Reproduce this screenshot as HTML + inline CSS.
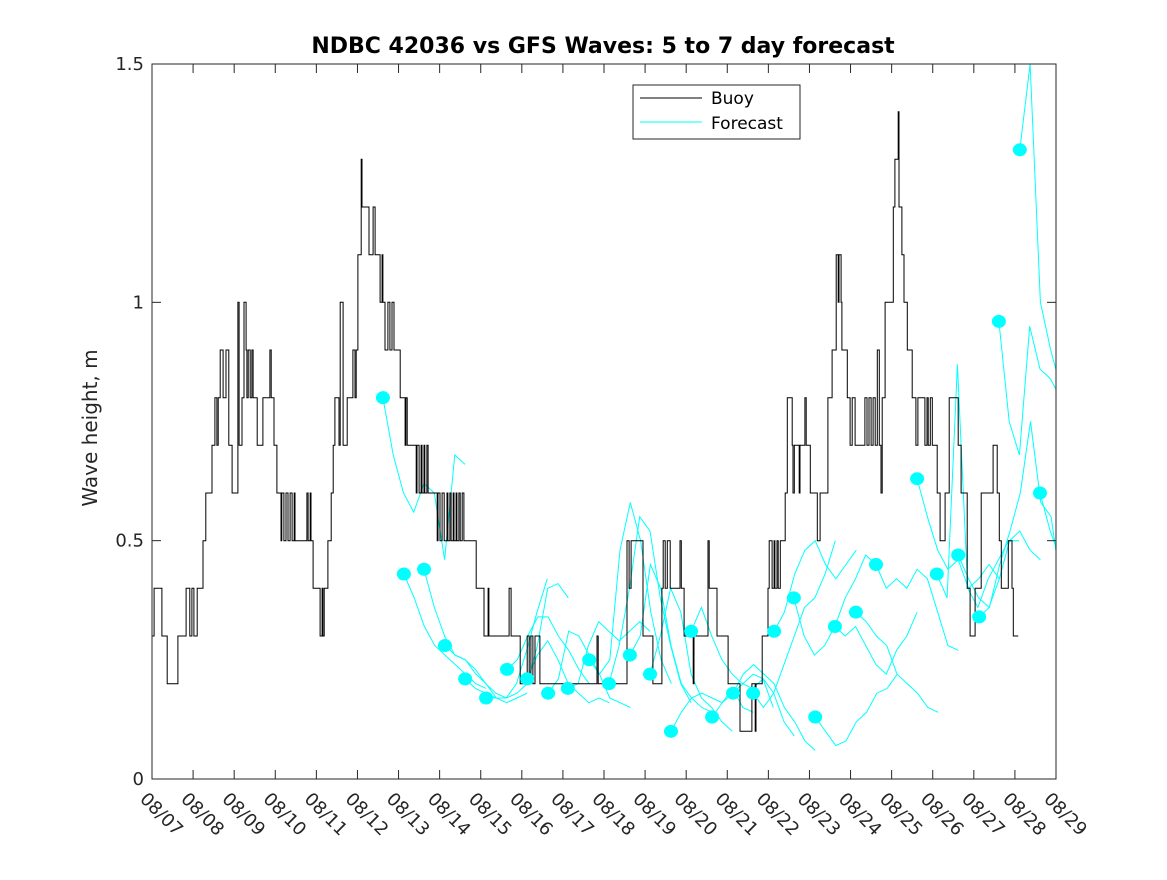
<!DOCTYPE html>
<html><head><meta charset="utf-8"><style>
body{margin:0;background:#fff}
svg text{font-family:"DejaVu Sans","Liberation Sans",sans-serif;fill:#262626}
</style></head><body>
<svg id="chart" width="1167" height="875" viewBox="0 0 1167 875" xmlns="http://www.w3.org/2000/svg">
<defs><clipPath id="plotclip"><rect x="152" y="64" width="904" height="715"/></clipPath></defs>
<rect x="0" y="0" width="1167" height="875" fill="#fff"/>
<text x="603" y="53" text-anchor="middle" font-size="22" font-weight="bold" style="fill:#000">NDBC 42036 vs GFS Waves: 5 to 7 day forecast</text>
<text transform="translate(97,428) rotate(-90)" text-anchor="middle" font-size="20">Wave height, m</text>
<g id="plot" clip-path="url(#plotclip)"></g>
<rect x="152" y="64" width="904" height="715" fill="none" stroke="#262626" stroke-width="1"/>
<g id="axes"></g>
<g>
<rect x="633" y="85" width="167" height="54" fill="#fff" stroke="#262626" stroke-width="1"/>
<line x1="640" y1="98" x2="702" y2="98" stroke="#000" stroke-width="1"/>
<text x="711" y="104" font-size="17" style="fill:#000">Buoy</text>
<line x1="640" y1="122" x2="702" y2="122" stroke="#00ffff" stroke-width="1"/>
<text x="711" y="129" font-size="17" style="fill:#000">Forecast</text>
</g>
</svg>
<script>
const xTickLabels=["08/07","08/08","08/09","08/10","08/11","08/12","08/13","08/14","08/15","08/16","08/17","08/18","08/19","08/20","08/21","08/22","08/23","08/24","08/25","08/26","08/27","08/28","08/29"];
const yTicks=[0,0.5,1,1.5];
const yTickLabels=["0","0.5","1","1.5"];
const buoyT=[0,0.05,0.24,0.37,0.63,0.83,0.92,0.97,1.02,1.10,1.24,1.31,1.46,1.53,1.58,1.61,1.66,1.73,1.80,1.87,1.95,2.09,2.12,2.19,2.24,2.29,2.31,2.34,2.39,2.43,2.46,2.56,2.70,2.87,2.90,2.97,3.04,3.14,3.16,3.21,3.26,3.31,3.36,3.41,3.46,3.48,3.77,3.80,3.85,3.87,3.92,4.09,4.14,4.16,4.19,4.28,4.36,4.41,4.45,4.55,4.58,4.65,4.75,4.89,4.94,4.97,5.01,5.09,5.11,5.28,5.38,5.43,5.55,5.60,5.62,5.67,5.74,5.79,5.84,5.89,6.04,6.16,6.18,6.21,6.43,6.45,6.50,6.55,6.57,6.62,6.64,6.69,6.72,6.94,6.96,7.01,7.06,7.11,7.18,7.20,7.25,7.28,7.33,7.35,7.40,7.42,7.47,7.50,7.55,7.59,7.89,8.08,8.18,8.20,8.69,8.74,8.96,9.13,9.18,9.22,9.27,9.32,9.44,10.83,10.86,11.56,11.61,11.66,11.95,12.19,12.41,12.44,12.49,12.54,12.61,12.85,12.88,12.95,13.17,13.19,13.53,13.56,13.75,14.02,14.31,14.60,14.68,14.70,14.85,14.99,15.02,15.09,15.14,15.16,15.21,15.24,15.29,15.41,15.46,15.58,15.60,15.63,15.75,15.77,15.89,15.92,16.02,16.19,16.26,16.45,16.55,16.65,16.70,16.72,16.77,16.79,16.92,16.99,17.04,17.11,17.35,17.40,17.45,17.50,17.55,17.60,17.65,17.70,17.74,17.77,17.84,18.04,18.08,18.16,18.18,18.25,18.30,18.38,18.50,18.59,18.64,18.81,18.86,18.89,18.94,18.99,19.11,19.18,19.30,19.40,19.62,19.69,19.84,19.91,20.03,20.18,20.47,20.57,20.62,20.67,20.84,20.93,20.96,21.03,21.08,21.30];
const buoyV=[0.3,0.4,0.3,0.2,0.3,0.4,0.3,0.4,0.3,0.4,0.5,0.6,0.7,0.8,0.7,0.8,0.9,0.8,0.9,0.7,0.6,1.0,0.7,0.8,1.0,0.9,0.8,0.9,0.8,0.9,0.8,0.7,0.8,0.9,0.8,0.7,0.6,0.5,0.6,0.5,0.6,0.5,0.6,0.5,0.6,0.5,0.6,0.5,0.6,0.5,0.4,0.3,0.4,0.3,0.4,0.5,0.6,0.7,0.8,0.7,1.0,0.7,0.8,0.9,0.8,0.9,1.1,1.3,1.2,1.1,1.2,1.1,1.0,1.1,1.0,0.9,1.0,0.9,1.0,0.9,0.8,0.7,0.8,0.7,0.6,0.7,0.6,0.7,0.6,0.7,0.6,0.7,0.6,0.5,0.6,0.5,0.6,0.5,0.6,0.5,0.6,0.5,0.6,0.5,0.6,0.5,0.6,0.5,0.6,0.5,0.4,0.3,0.4,0.3,0.4,0.3,0.2,0.3,0.2,0.3,0.2,0.3,0.2,0.3,0.2,0.5,0.4,0.5,0.3,0.2,0.4,0.5,0.4,0.5,0.4,0.5,0.4,0.3,0.2,0.3,0.5,0.4,0.3,0.2,0.1,0.2,0.1,0.2,0.3,0.4,0.5,0.4,0.5,0.4,0.5,0.4,0.5,0.6,0.8,0.7,0.6,0.7,0.6,0.7,0.8,0.7,0.6,0.5,0.6,0.8,0.9,1.1,1.0,1.1,1.0,0.9,0.8,0.7,0.8,0.7,0.8,0.7,0.8,0.7,0.8,0.7,0.9,0.7,0.6,0.8,1.0,1.2,1.3,1.4,1.2,1.1,1.0,0.9,0.8,0.7,0.8,0.7,0.8,0.7,0.8,0.7,0.6,0.5,0.6,0.8,0.7,0.6,0.4,0.3,0.4,0.6,0.7,0.6,0.5,0.4,0.5,0.4,0.3,0.3];
const fcStart=[5.62,6.13,6.62,7.13,7.62,8.13,8.64,9.13,9.64,10.12,10.64,11.12,11.63,12.12,12.63,13.12,13.63,14.14,14.63,15.14,15.62,16.14,16.62,17.13,17.62,18.62,19.10,19.62,20.13,20.61,21.12,21.61];
const fcValues=[
[0.80,0.68,0.60,0.56,0.62,0.60,0.46,0.68,0.66],
[0.43,0.38,0.32,0.28,0.26,0.24,0.22,0.20,0.19],
[0.44,0.36,0.30,0.26,0.25,0.23,0.20,0.18,0.17],
[0.28,0.26,0.25,0.22,0.20,0.17,0.16,0.17,0.18],
[0.21,0.19,0.18,0.17,0.17,0.20,0.27,0.35,0.42],
[0.17,0.17,0.17,0.18,0.20,0.28,0.40,0.41,0.38],
[0.23,0.25,0.30,0.34,0.34,0.30,0.27,0.23,0.20],
[0.21,0.26,0.29,0.25,0.20,0.18,0.16,0.17,0.16],
[0.18,0.21,0.31,0.30,0.26,0.22,0.17,0.16,0.15],
[0.19,0.20,0.28,0.33,0.31,0.29,0.31,0.33,0.31],
[0.25,0.22,0.25,0.48,0.58,0.50,0.35,0.25,0.20],
[0.20,0.28,0.40,0.55,0.52,0.38,0.28,0.20,0.16],
[0.26,0.30,0.45,0.40,0.28,0.20,0.17,0.15,0.14],
[0.22,0.30,0.40,0.35,0.22,0.17,0.15,0.12,0.10],
[0.10,0.14,0.17,0.18,0.17,0.16,0.19,0.15,0.14],
[0.31,0.36,0.30,0.25,0.22,0.20,0.19,0.21,0.15],
[0.13,0.16,0.18,0.20,0.22,0.21,0.18,0.12,0.09],
[0.18,0.22,0.24,0.22,0.20,0.15,0.12,0.08,0.06],
[0.18,0.15,0.18,0.24,0.30,0.36,0.38,0.43,0.50],
[0.31,0.35,0.43,0.48,0.50,0.45,0.42,0.45,0.48],
[0.38,0.30,0.26,0.28,0.32,0.38,0.42,0.47,0.45],
[0.13,0.10,0.07,0.08,0.12,0.14,0.18,0.19,0.22],
[0.32,0.30,0.32,0.28,0.24,0.22,0.27,0.30,0.35],
[0.35,0.33,0.30,0.28,0.22,0.20,0.18,0.15,0.14],
[0.45,0.40,0.42,0.40,0.44,0.42,0.35,0.28,0.27],
[0.63,0.55,0.48,0.44,0.46,0.40,0.42,0.45,0.42],
[0.43,0.38,0.87,0.40,0.36,0.42,0.46,0.50,0.50],
[0.47,0.42,0.38,0.36,0.42,0.50,0.52,0.48,0.46],
[0.34,0.36,0.45,0.52,0.60,0.75,0.58,0.55,0.40],
[0.96,0.75,0.68,0.95,0.86,0.84,0.80,0.68],
[1.32,1.50,1.00,0.90,0.82,0.70],
[0.60,0.52,0.46,0.40,0.33]
];
const fcStep=0.25;
const X0=152,X1=1056,Y0=779,Y1=64,DMAX=22,VMAX=1.5;
function xs(d){return X0+(X1-X0)*d/DMAX;}
function ys(v){return Y0-(Y0-Y1)*v/VMAX;}
const NS="http://www.w3.org/2000/svg";
const plot=document.getElementById('plot'),axes=document.getElementById('axes');
function mk(tag,attrs,parent){const e=document.createElementNS(NS,tag);for(const k in attrs)e.setAttribute(k,attrs[k]);parent.appendChild(e);return e;}
xTickLabels.forEach((lab,i)=>{
  const x=xs(i);
  const t1=mk('line',{x1:x,y1:Y0,x2:x,y2:Y0-9,stroke:'#262626'},axes);
  
  
  const t2=mk('line',{x1:x,y1:Y1,x2:x,y2:Y1+9,stroke:'#262626'},axes);
  
  
  const tx=mk('text',{transform:`translate(${x-4},${Y0+12}) rotate(45)`,'font-size':'18','dominant-baseline':'hanging'},axes);
  tx.textContent=lab;
  
  
});
yTicks.forEach((v,i)=>{
  const y=ys(v);
  const t1=mk('line',{x1:X0,y1:y,x2:X0+9,y2:y,stroke:'#262626'},axes);
  
  
  const t2=mk('line',{x1:X1,y1:y,x2:X1-9,y2:y,stroke:'#262626'},axes);
  
  
  const tx=mk('text',{x:X0-8,y:y+6,'text-anchor':'end','font-size':'18'},axes);
  tx.textContent=yTickLabels[i];
  
  
});
fcStart.forEach((s,i)=>{
  const pts=fcValues[i].map((v,j)=>xs(s+j*fcStep).toFixed(1)+','+ys(v).toFixed(1)).join(' ');
  const pl=mk('polyline',{points:pts,fill:'none',stroke:'#00ffff','stroke-width':'1'},plot);
  
  
});
let d='';
for(let i=0;i<buoyT.length;i++){
  const x=xs(buoyT[i]).toFixed(1),y=ys(buoyV[i]).toFixed(1);
  if(i===0)d+=`M${x},${y}`;else d+=`H${x}V${y}`;
}
const bp=mk('path',{d:d,fill:'none',stroke:'#000','stroke-width':'1'},plot);


fcStart.forEach((s,i)=>{
  const c=mk('ellipse',{cx:xs(s),cy:ys(fcValues[i][0]),rx:7,ry:6.5,fill:'#00ffff'},plot);
  
  
});
</script>
</body></html>
